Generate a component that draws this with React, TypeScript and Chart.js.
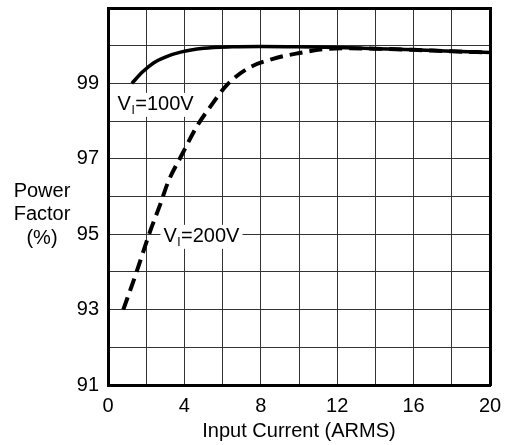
import React, { useEffect, useRef } from 'react';
import { Chart, registerables } from 'chart.js';
Chart.register(...registerables);

const currentV100 = [1.25, 1.8, 2.4, 3.0, 3.8, 5.0, 6.5, 8, 10, 12, 14, 16, 18, 20];
const pfV100 = [99.0, 99.3, 99.55, 99.7, 99.83, 99.93, 99.97, 99.98, 99.97, 99.95, 99.92, 99.89, 99.85, 99.82];
const currentV200 = [0.8, 1.41, 2.2, 2.72, 3.16, 3.86, 4.64, 5.34, 6.23, 7.33, 8.64, 9.95, 11.36, 12.5, 14, 16, 18, 20];
const pfV200 = [93.0, 93.87, 95.07, 95.77, 96.4, 97.1, 97.85, 98.37, 98.96, 99.4, 99.65, 99.8, 99.91, 99.93, 99.92, 99.89, 99.85, 99.82];
const xTickLabels = [0, 4, 8, 12, 16, 20];
const yTickLabels = [91, 93, 95, 97, 99];
const yTitleLines = ['Power', 'Factor', '(%)'];
const xTitle = 'Input Current (ARMS)';
const curveLabels = [
  { main: 'V', sub: 'I', rest: '=100V', x: 0.5, y: 98.43 },
  { main: 'V', sub: 'I', rest: '=200V', x: 2.9, y: 94.93 },
];

const FONT = '"Liberation Sans", Arial, sans-serif';
const FS = 20;

const labelPlugin = {
  id: 'curveLabels',
  beforeDatasetsDraw(chart: any) {
    const ctx = chart.ctx;
    const xs = chart.scales.x;
    const ys = chart.scales.y;
    ctx.save();
    for (const l of curveLabels) {
      const px = xs.getPixelForValue(l.x);
      const py = ys.getPixelForValue(l.y);
      ctx.font = `${FS}px ${FONT}`;
      const w1 = ctx.measureText(l.main).width;
      const w3 = ctx.measureText(l.rest).width;
      ctx.font = `12px ${FONT}`;
      const w2 = ctx.measureText(l.sub).width + 1;
      const total = w1 + w2 + w3;
      ctx.fillStyle = '#fff';
      ctx.fillRect(px - 3, py - 12, total + 6, 24);
      ctx.fillStyle = '#000';
      ctx.textBaseline = 'middle';
      ctx.textAlign = 'left';
      ctx.font = `${FS}px ${FONT}`;
      ctx.fillText(l.main, px, py);
      ctx.font = `12px ${FONT}`;
      ctx.fillText(l.sub, px + w1 + 0.5, py + 6);
      ctx.font = `${FS}px ${FONT}`;
      ctx.fillText(l.rest, px + w1 + w2, py);
    }
    ctx.restore();
  },
  afterDraw(chart: any) {
    const ctx = chart.ctx;
    ctx.save();
    ctx.font = `${FS}px ${FONT}`;
    ctx.fillStyle = '#000';
    ctx.textAlign = 'center';
    ctx.textBaseline = 'middle';
    const ys = [191, 214, 238];
    yTitleLines.forEach((t, i) => ctx.fillText(t, 42, ys[i]));
    ctx.restore();
  },
};

export default function App() {
  const ref = useRef<HTMLCanvasElement | null>(null);
  useEffect(() => {
    if (!ref.current) return;
    const chart = new Chart(ref.current, {
      type: 'line',
      data: {
        datasets: [
          {
            label: '100V',
            data: currentV100.map((x, i) => ({ x, y: pfV100[i] })),
            borderColor: '#000',
            borderWidth: 3.5,
            pointRadius: 0,
            cubicInterpolationMode: 'monotone',
            fill: false,
          },
          {
            label: '200V',
            data: currentV200.map((x, i) => ({ x, y: pfV200[i] })),
            borderColor: '#000',
            borderWidth: 4,
            borderDash: [13, 7],
            pointRadius: 0,
            cubicInterpolationMode: 'monotone',
            fill: false,
          },
        ],
      },
      options: {
        animation: false,
        responsive: false,
        maintainAspectRatio: false,
        layout: { padding: { left: 0, right: 17, top: 8, bottom: 0 } },
        plugins: { legend: { display: false }, tooltip: { enabled: false }, title: { display: false } },
        scales: {
          x: {
            type: 'linear',
            min: 0,
            max: 20,
            ticks: {
              stepSize: 2,
              autoSkip: false,
              maxRotation: 0,
              padding: 9,
              color: '#000',
              font: { family: FONT, size: FS },
              callback: (v: any) => (xTickLabels.includes(Number(v)) ? String(v) : ''),
            },
            grid: { color: '#333', lineWidth: 1, drawTicks: false },
            border: { display: true, color: '#000', width: 3 },
            title: { display: true, text: xTitle, color: '#000', font: { family: FONT, size: FS }, padding: { top: 0, bottom: 2 } },
            afterFit: (s: any) => {
              s.height = 60;
              s.paddingLeft = 0;
              s.paddingRight = 0;
            },
          },
          y: {
            type: 'linear',
            min: 91,
            max: 101,
            ticks: {
              stepSize: 1,
              autoSkip: false,
              padding: 9,
              color: '#000',
              font: { family: FONT, size: FS },
              callback: (v: any) => (yTickLabels.includes(Number(v)) ? String(v) : ''),
            },
            grid: { color: '#333', lineWidth: 1, drawTicks: false },
            border: { display: true, color: '#000', width: 3 },
            afterFit: (s: any) => {
              s.width = 108;
              s.paddingTop = 0;
              s.paddingBottom = 0;
            },
          },
          x2: {
            type: 'linear', position: 'top', min: 0, max: 20, display: true,
            ticks: { display: false }, grid: { display: false, drawTicks: false },
            border: { display: true, color: '#000', width: 3 },
            afterFit: (s: any) => { s.height = 0; s.paddingLeft = 0; s.paddingRight = 0; },
          },
          y2: {
            type: 'linear', position: 'right', min: 91, max: 101, display: true,
            ticks: { display: false }, grid: { display: false, drawTicks: false },
            border: { display: true, color: '#000', width: 3 },
            afterFit: (s: any) => { s.width = 0; s.paddingTop = 0; s.paddingBottom = 0; },
          },
        },
      } as any,
      plugins: [labelPlugin],
    });
    return () => chart.destroy();
  }, []);
  return (
    <div style={{ position: 'absolute', left: 0, top: 0, width: 507, height: 445, background: '#fff' }}>
      <canvas ref={ref} width={507} height={445} style={{ width: 507, height: 445 }} />
    </div>
  );
}
